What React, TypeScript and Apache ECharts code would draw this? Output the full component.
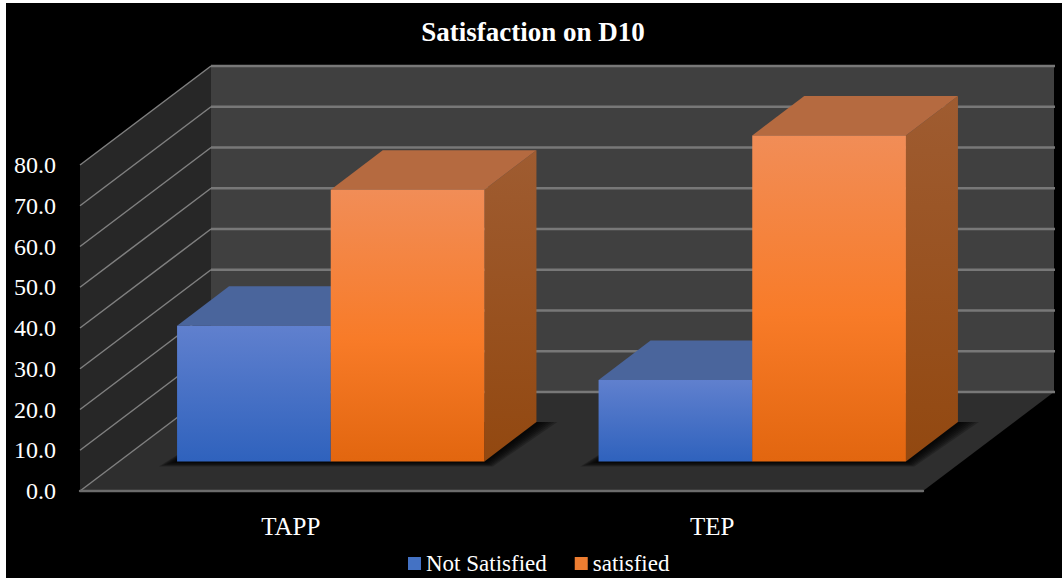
import React, { useEffect, useRef } from "react";
import * as echarts from "echarts";

// Survey shares per programme, in percent
const categories = ["TAPP", "TEP"];
const notSatisfied = [33.3, 20.0];
const satisfied = [66.7, 80.0];
const yTicks = [0, 10, 20, 30, 40, 50, 60, 70, 80];

const FONT = "'Liberation Serif', 'Times New Roman', serif";

// Oblique projection of the 3D box: offsets in px for depth
const ROOM_DX = 131;
const ROOM_DY = -99;
const GAP_DX = 40;
const GAP_DY = -29.5;
const BAR_DX = 52;
const BAR_DY = -39.5;
const BAR_SHARE = 0.3646;

// Layers of the feathered contact shadow on the floor
const SHADOW_LAYERS = [1, 2, 3, 4, 5, 6, 7];

const vGrad = (stops: [number, string][]) => ({
  type: "linear",
  x: 0,
  y: 0,
  x2: 0,
  y2: 1,
  colorStops: stops.map(([offset, color]) => ({ offset, color })),
});

const bluePalette = {
  front: vGrad([
    [0, "#6080ce"],
    [1, "#2f62bd"],
  ]),
  top: "#4a659c",
  side: vGrad([
    [0, "#3f5f9c"],
    [1, "#24488c"],
  ]),
};
const orangePalette = {
  front: vGrad([
    [0, "#f18d57"],
    [0.55, "#f87b28"],
    [1, "#e2660f"],
  ]),
  top: "#b56a40",
  side: vGrad([
    [0, "#9f5c31"],
    [1, "#924810"],
  ]),
};

// Floor, side wall and back wall of the box
const renderRoom = (params: any) => {
  const { x, y, width, height } = params.coordSys;
  const bottom = y + height;
  return {
    type: "group",
    children: [
      {
        type: "polygon",
        shape: { points: [[x, y], [x + ROOM_DX, y + ROOM_DY], [x + ROOM_DX, bottom + ROOM_DY], [x, bottom]] },
        style: { fill: "#272727" },
      },
      {
        type: "rect",
        shape: { x: x + ROOM_DX, y: y + ROOM_DY, width, height },
        style: { fill: "#404040" },
      },
      {
        type: "polygon",
        shape: {
          points: [
            [x, bottom],
            [x + width, bottom],
            [x + width + ROOM_DX, bottom + ROOM_DY],
            [x + ROOM_DX, bottom + ROOM_DY],
          ],
        },
        style: { fill: "#2e2e2e" },
      },
    ],
  };
};

// One gridline per tick, running along the side wall and across the back wall
const renderGridLine = (params: any, api: any) => {
  const { x, width } = params.coordSys;
  const py = api.coord([0, api.value(0)])[1];
  const backY = py + ROOM_DY;
  return {
    type: "group",
    children: [
      {
        type: "line",
        shape: { x1: x, y1: py, x2: x + ROOM_DX, y2: backY },
        style: { stroke: "#808080", lineWidth: 1.5 },
      },
      {
        type: "line",
        shape: { x1: x + ROOM_DX, y1: backY, x2: x + ROOM_DX + width + 1, y2: backY },
        style: { stroke: "#787878", lineWidth: 2.4 },
      },
    ],
  };
};

// Soft contact shadow under each pair of bars, built from widening translucent layers
const renderShadow = (_: any, api: any) => {
  const idx = api.value(0);
  const [cx, py] = api.coord([idx, 0]);
  const w = api.size([1, 0])[0] * BAR_SHARE;
  const left = cx + GAP_DX - w;
  const right = cx + GAP_DX + w;
  const by = py + GAP_DY;
  return {
    type: "group",
    children: SHADOW_LAYERS.map((k) => ({
      type: "polygon",
      shape: {
        points: [
          [left - k * 2.6, by + k * 0.7],
          [right + k * 1.2, by + k * 0.7],
          [right + BAR_DX + k * 3, by + BAR_DY],
          [left + BAR_DX, by + BAR_DY],
        ],
      },
      style: { fill: "rgba(0,0,0,0.22)" },
    })),
  };
};

const makeBarRenderer = (slot: number, palette: typeof bluePalette) => (_: any, api: any) => {
  const idx = api.value(0);
  const [cx, py0] = api.coord([idx, 0]);
  const py1 = api.coord([idx, api.value(1)])[1];
  const w = api.size([1, 0])[0] * BAR_SHARE;
  const x0 = cx + GAP_DX + slot * w;
  const x1 = x0 + w;
  const yBase = py0 + GAP_DY;
  const yTop = py1 + GAP_DY;
  return {
    type: "group",
    children: [
      {
        type: "polygon",
        shape: {
          points: [
            [x1, yTop],
            [x1 + BAR_DX, yTop + BAR_DY],
            [x1 + BAR_DX, yBase + BAR_DY],
            [x1, yBase],
          ],
        },
        style: { fill: palette.side },
      },
      {
        type: "polygon",
        shape: {
          points: [
            [x0, yTop],
            [x1, yTop],
            [x1 + BAR_DX, yTop + BAR_DY],
            [x0 + BAR_DX, yTop + BAR_DY],
          ],
        },
        style: { fill: palette.top },
      },
      {
        type: "rect",
        shape: { x: x0, y: yTop, width: w, height: yBase - yTop },
        style: { fill: palette.front },
      },
    ],
  };
};

export default function App() {
  const ref = useRef<HTMLDivElement>(null);

  useEffect(() => {
    document.body.style.margin = "0";
    const chart = echarts.init(ref.current!, null, { renderer: "svg" });
    chart.setOption({
      animation: false,
      backgroundColor: "#ffffff",
      graphic: [
        {
          type: "rect",
          z: -10,
          shape: { x: 6, y: 3, width: 1056, height: 575 },
          style: { fill: "#000000" },
        },
      ],
      title: {
        text: "Satisfaction on D10",
        left: 528,
        top: 13,
        textAlign: "center",
        textStyle: { color: "#ffffff", fontFamily: FONT, fontWeight: "bold", fontSize: 27 },
      },
      legend: {
        data: ["Not Satisfied", "satisfied"],
        left: 403,
        top: 547,
        icon: "rect",
        itemWidth: 13,
        itemHeight: 13,
        itemGap: 28,
        selectedMode: false,
        textStyle: { color: "#ffffff", fontFamily: FONT, fontSize: 23 },
      },
      grid: { left: 80, right: 139, top: 165, bottom: 87 },
      xAxis: {
        type: "category",
        data: categories,
        z: 5,
        axisLine: { show: true, lineStyle: { color: "#6c6c6c", width: 2.4 } },
        axisTick: { show: false },
        axisLabel: { color: "#ffffff", fontFamily: FONT, fontSize: 25, margin: 23 },
      },
      yAxis: {
        type: "value",
        min: 0,
        max: 80,
        interval: 10,
        axisLine: { show: false },
        axisTick: { show: false },
        splitLine: { show: false },
        axisLabel: {
          color: "#ffffff",
          fontFamily: FONT,
          fontSize: 24,
          margin: 24,
          formatter: (v: number) => v.toFixed(1),
        },
      },
      series: [
        { type: "custom", name: "room", silent: true, z: 1, data: [[0]], renderItem: renderRoom },
        {
          type: "custom",
          name: "gridlines",
          silent: true,
          z: 1,
          encode: { y: 0 },
          data: yTicks.map((t) => [t]),
          renderItem: renderGridLine,
        },
        {
          type: "custom",
          name: "shadow",
          silent: true,
          z: 1,
          data: categories.map((_, i) => [i]),
          renderItem: renderShadow,
        },
        {
          type: "custom",
          name: "Not Satisfied",
          z: 2,
          itemStyle: { color: "#4472c4" },
          encode: { x: 0, y: 1 },
          data: notSatisfied.map((v, i) => [i, v]),
          renderItem: makeBarRenderer(-1, bluePalette),
        },
        {
          type: "custom",
          name: "satisfied",
          z: 3,
          itemStyle: { color: "#ed7d31" },
          encode: { x: 0, y: 1 },
          data: satisfied.map((v, i) => [i, v]),
          renderItem: makeBarRenderer(0, orangePalette),
        },
      ],
    });
    return () => chart.dispose();
  }, []);

  return <div ref={ref} style={{ width: 1062, height: 578 }} />;
}
